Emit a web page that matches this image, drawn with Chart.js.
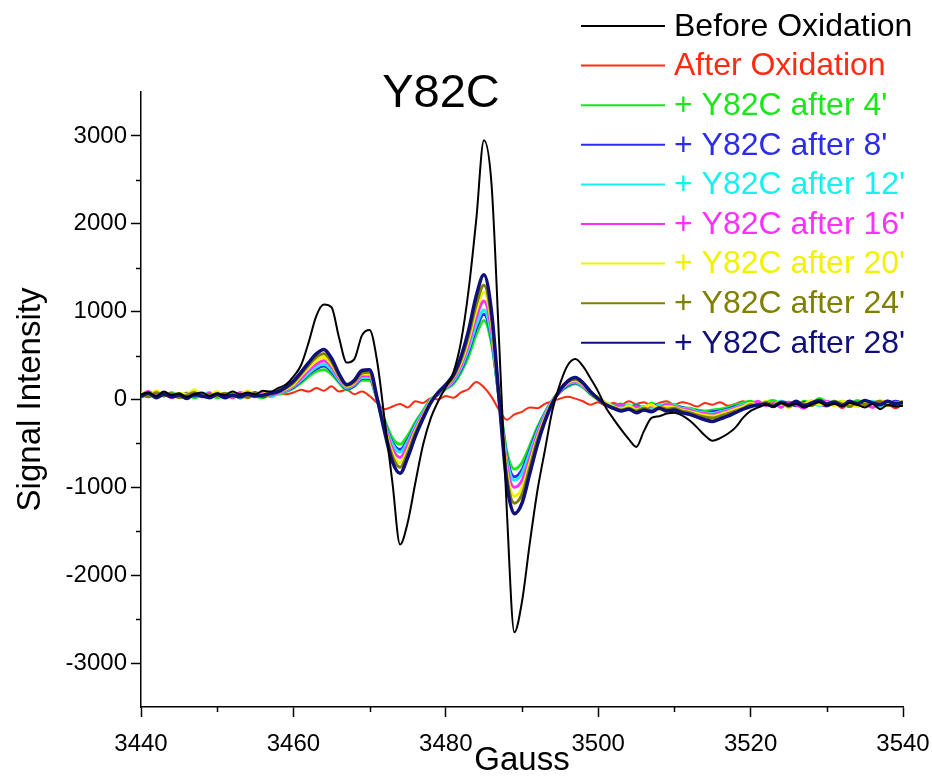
<!DOCTYPE html>
<html>
<head>
<meta charset="utf-8">
<script src="https://cdn.jsdelivr.net/npm/chart.js@4.4.1/dist/chart.umd.min.js"></script>
<style>
  html, body { margin: 0; padding: 0; background: #fff; }
  canvas { display: block; }
</style>
</head>
<body>
<canvas id="epr" width="932" height="777"></canvas>
<script>
// field axis (Gauss), 1 G steps 3440..3540
const gauss = [];
for (let g = 3440; g <= 3540; g++) gauss.push(g);

const seriesLabels = ["Before Oxidation", "After Oxidation", "+ Y82C after 4'", "+ Y82C after 8'",
    "+ Y82C after 12'", "+ Y82C after 16'", "+ Y82C after 20'", "+ Y82C after 24'", "+ Y82C after 28'"];
const seriesColors = ["#000000", "#ff2a10", "#18e818", "#2c2cf0", "#18f0f0", "#ff30ff", "#f2f200", "#808000", "#10107a"];

const yTicksMajor = [-3000, -2000, -1000, 0, 1000, 2000, 3000];
const xTicksMajor = [3440, 3460, 3480, 3500, 3520, 3540];

const beforeOx = [
    60, 80, 40, 90, 50, 70, 30, 60, 80, 40,
    70, 50, 90, 60, 80, 60, 100, 90, 130, 170,
    260, 390, 650, 950, 1080, 1050, 700, 420, 460, 730,
    790, 430, -250, -950, -1650, -1400, -950, -520, -220, -20,
    140, 310, 660, 1250, 2050, 2950, 2450, 650, -1250, -2650,
    -2300, -1650, -1050, -580, -120, 180, 390, 460, 380, 240,
    90, -90, -220, -340, -450, -540, -360, -210, -190, -160,
    -150, -180, -240, -320, -410, -470, -440, -390, -320, -210,
    -130, -90, -60, -80, -40, -70, -50, -90, -60, -30,
    -70, -50, -80, -40, -60, -90, -50, -110, -60, -80,
    -70
];
const afterOx = [
    60, 40, 90, 50, 70, 30, 60, 40, 70, 20,
    50, 30, 60, 10, 40, 30, 60, 40, 70, 60,
    80, 110, 90, 130, 100, 150, 90, 110, 60, 90,
    40, -40, -110, -80, -50, -90, -20, -40, 10, 0,
    40, 20, 80, 120, 200, 140, 30, -120, -230, -170,
    -140, -90, -100, -50, -20, 10, 30, 10, -20, -60,
    -30, -70, -40, -60, -20, -50, -30, -70, -40, -20,
    -60, -30, -50, -80, -40, -60, -30, -70, -50, -20,
    -60, -80, -40, -60, -30, -90, -50, -70, -40, -60,
    -80, -40, -100, -50, -70, -60, -30, -80, -60, -100,
    -50
];
const y82c4 = [
    40, 80, 20, 60, 50, 30, 70, 20, 50, 60,
    20, 50, 80, 30, 60, 40, 20, 70, 60, 90,
    130, 190, 260, 320, 340, 290, 190, 110, 150, 220,
    220, 0, -240, -440, -510, -410, -260, -130, 0, 60,
    120, 180, 310, 500, 740, 900, 640, 10, -590, -790,
    -720, -530, -320, -150, -10, 90, 150, 180, 140, 60,
    0, -40, -70, -50, -90, -60, -100, -40, -80, -50,
    -60, -90, -100, -120, -130, -120, -110, -90, -60, -40,
    -20, -60, -30, -10, -50, -30, -70, -20, -40, 10,
    -30, -60, -20, -50, -10, -40, -70, -30, -20, -50,
    -30
];
const y82c8 = [
    30, 60, 40, 80, 50, 30, 70, 40, 60, 30,
    70, 40, 60, 30, 50, 80, 30, 60, 80, 100,
    140, 210, 290, 350, 380, 320, 210, 120, 160, 240,
    240, 0, -270, -490, -570, -460, -290, -150, -10, 60,
    130, 200, 340, 550, 810, 970, 690, 10, -650, -880,
    -800, -580, -350, -160, -10, 90, 160, 190, 150, 70,
    10, -50, -80, -60, -100, -70, -110, -80, -60, -100,
    -80, -90, -120, -130, -150, -140, -130, -110, -80, -60,
    -30, -60, -40, -80, -20, -50, -70, -30, -60, -40,
    -70, -30, -50, -20, -60, -40, -80, -30, -50, -20,
    -40
];
const y82c12 = [
    70, 30, 60, 40, 80, 50, 20, 60, 50, 80,
    30, 50, 60, 20, 70, 40, 90, 30, 70, 100,
    150, 220, 300, 370, 400, 340, 220, 130, 170, 250,
    250, 0, -280, -510, -600, -480, -300, -150, -10, 70,
    130, 210, 360, 580, 850, 1020, 720, 10, -680, -920,
    -840, -610, -370, -170, -10, 100, 170, 200, 150, 80,
    20, -40, -70, -90, -60, -110, -80, -100, -60, -90,
    -70, -100, -110, -140, -150, -160, -140, -120, -90, -60,
    -40, -70, -30, -50, -20, -80, -40, -60, -30, -70,
    -40, -20, -60, -30, -70, -50, -20, -80, -40, -50,
    -30
];
const y82c16 = [
    50, 90, 40, 70, 20, 60, 40, 80, 30, 70,
    40, 60, 20, 80, 50, 30, 70, 50, 80, 110,
    160, 240, 330, 400, 440, 370, 240, 140, 180, 270,
    270, 0, -300, -560, -660, -520, -330, -170, -20, 70,
    140, 230, 390, 630, 930, 1120, 790, 10, -740, -1000,
    -920, -670, -400, -190, -20, 100, 180, 210, 160, 80,
    10, -50, -80, -60, -100, -80, -120, -70, -90, -60,
    -80, -110, -120, -150, -160, -170, -150, -130, -100, -70,
    -50, -20, -70, -40, -90, -30, -60, -100, -40, -50,
    -20, -60, -40, -80, -30, -50, -90, -40, -20, -60,
    -40
];
const y82c20 = [
    80, 40, 100, 50, 30, 70, 60, 110, 40, 50,
    90, 30, 70, 50, 100, 40, 60, 80, 90, 120,
    170, 270, 360, 440, 480, 400, 260, 150, 190, 290,
    290, 0, -330, -610, -720, -570, -360, -190, -20, 80,
    150, 250, 420, 680, 1010, 1220, 860, 10, -810, -1100,
    -1010, -730, -440, -210, -20, 110, 190, 220, 170, 90,
    20, -40, -80, -110, -70, -120, -90, -60, -110, -80,
    -90, -120, -140, -160, -180, -190, -170, -140, -110, -80,
    -40, -70, -20, -60, -30, -90, -20, -50, -10, -60,
    -30, -70, -20, -50, -80, -30, -60, -10, -50, -40,
    -20
];
const y82c24 = [
    60, 30, 80, 40, 70, 20, 50, 80, 30, 60,
    40, 70, 30, 60, 20, 70, 40, 60, 100, 130,
    190, 290, 390, 480, 520, 430, 270, 160, 200, 300,
    310, 0, -350, -650, -770, -610, -380, -200, -30, 70,
    160, 260, 450, 730, 1080, 1300, 920, 0, -870, -1180,
    -1080, -780, -470, -230, -30, 110, 200, 230, 180, 80,
    0, -60, -90, -120, -100, -130, -100, -130, -90, -110,
    -100, -130, -150, -180, -200, -210, -190, -160, -130, -100,
    -60, -80, -30, -60, -40, -80, -30, -50, -70, -20,
    -60, -20, -50, -80, -30, -60, -40, -20, -70, -30,
    -60
];
const y82c28 = [
    40, 70, 20, 60, 30, 50, 10, 60, 40, 20,
    60, 20, 50, 30, 60, 40, 50, 70, 90, 140,
    210, 310, 420, 520, 570, 470, 290, 170, 220, 330,
    340, 10, -380, -710, -840, -660, -420, -220, -40, 80,
    170, 280, 490, 790, 1180, 1420, 1000, 0, -950, -1300,
    -1180, -850, -520, -250, -40, 110, 210, 250, 190, 90,
    10, -60, -100, -130, -110, -150, -120, -140, -100, -130,
    -120, -150, -170, -200, -230, -250, -220, -190, -150, -110,
    -80, -60, -50, -80, -30, -60, -20, -70, -40, -10,
    -50, -30, -70, -20, -50, -10, -40, -60, -20, -50,
    -30
];

const allSeries = [beforeOx, afterOx, y82c4, y82c8, y82c12, y82c16, y82c20, y82c24, y82c28];
// drawing order: black on top, then 28' ... 4', red at the bottom
const drawOrder = [0, 8, 7, 6, 5, 4, 3, 2, 1];
const lineWidths = [2, 2, 3, 3, 3, 3, 3, 3, 3.5];

const FONT = "'Liberation Sans', Arial, Helvetica, sans-serif";

const datasets = allSeries.map((vals, i) => ({
    label: seriesLabels[i],
    data: gauss.map((g, k) => ({ x: g, y: vals[k] })),
    borderColor: seriesColors[i],
    backgroundColor: seriesColors[i],
    borderWidth: lineWidths[i],
    pointRadius: 0,
    cubicInterpolationMode: 'monotone',
    fill: false,
    order: drawOrder[i],
}));

// minor ticks (half length) + title + legend drawn on top
const decorPlugin = {
    id: 'decor',
    afterDraw(chart) {
        const { ctx, chartArea, scales: { x, y } } = chart;
        ctx.save();
        ctx.strokeStyle = '#000';
        ctx.lineWidth = 1.5;
        ctx.beginPath();
        y.ticks.forEach(t => {
            if (yTicksMajor.includes(t.value) || t.value === y.min || t.value === y.max) return;
            const py = Math.round(y.getPixelForValue(t.value)) + 0.5;
            ctx.moveTo(chartArea.left - 5, py);
            ctx.lineTo(chartArea.left, py);
        });
        x.ticks.forEach(t => {
            if (xTicksMajor.includes(t.value)) return;
            const px = Math.round(x.getPixelForValue(t.value)) + 0.5;
            ctx.moveTo(px, chartArea.bottom);
            ctx.lineTo(px, chartArea.bottom + 5);
        });
        ctx.stroke();

        // title
        ctx.fillStyle = '#000';
        ctx.font = '47px ' + FONT;
        ctx.textAlign = 'center';
        ctx.textBaseline = 'alphabetic';
        ctx.fillText('Y82C', 441, 107);

        // legend
        ctx.font = '32px ' + FONT;
        ctx.textAlign = 'left';
        ctx.textBaseline = 'middle';
        chart.data.datasets.forEach((ds, i) => {
            const ry = 26 + i * 39.6;
            ctx.strokeStyle = ds.borderColor;
            ctx.lineWidth = 2;
            ctx.beginPath();
            ctx.moveTo(581, ry);
            ctx.lineTo(665, ry);
            ctx.stroke();
            ctx.fillStyle = ds.borderColor;
            ctx.fillText(ds.label, 674, ry + 1);
        });
        ctx.restore();
    }
};

new Chart(document.getElementById('epr').getContext('2d'), {
    type: 'line',
    data: { datasets },
    options: {
        responsive: false,
        devicePixelRatio: 1,
        animation: false,
        events: [],
        layout: { padding: { left: 0, top: 92, right: 29, bottom: 0 } },
        plugins: {
            legend: { display: false },
            tooltip: { enabled: false },
        },
        scales: {
            x: {
                type: 'linear',
                min: 3440,
                max: 3540,
                afterFit(scale) {
                    scale.height = 70;
                    scale.paddingLeft = 0;
                    scale.paddingRight = 0;
                },
                border: { color: '#000', width: 1.5 },
                grid: {
                    drawOnChartArea: false,
                    tickLength: 10,
                    tickWidth: 1.5,
                    tickColor: c => xTicksMajor.includes(c.tick.value) ? '#000' : 'rgba(0,0,0,0)',
                },
                ticks: {
                    stepSize: 10,
                    autoSkip: false,
                    maxRotation: 0,
                    padding: 13,
                    color: '#000',
                    font: { family: FONT, size: 24 },
                    callback: v => xTicksMajor.includes(v) ? String(v) : '',
                },
                title: {
                    display: true,
                    text: 'Gauss',
                    color: '#000',
                    padding: 0,
                    font: { family: FONT, size: 33, lineHeight: 1 },
                },
            },
            y: {
                type: 'linear',
                min: -3500,
                max: 3500,
                afterFit(scale) { scale.width = 141; },
                border: { color: '#000', width: 1.5 },
                grid: {
                    drawOnChartArea: false,
                    tickLength: 10,
                    tickWidth: 1.5,
                    tickColor: c => yTicksMajor.includes(c.tick.value) ? '#000' : 'rgba(0,0,0,0)',
                },
                ticks: {
                    stepSize: 500,
                    autoSkip: false,
                    padding: 4,
                    color: '#000',
                    font: { family: FONT, size: 24 },
                    callback: v => yTicksMajor.includes(v) ? String(v) : '',
                },
                title: {
                    display: true,
                    text: 'Signal Intensity',
                    color: '#000',
                    padding: { top: 14, bottom: 0 },
                    font: { family: FONT, size: 33, lineHeight: 1 },
                },
            },
        },
    },
    plugins: [decorPlugin],
});
</script>
</body>
</html>
